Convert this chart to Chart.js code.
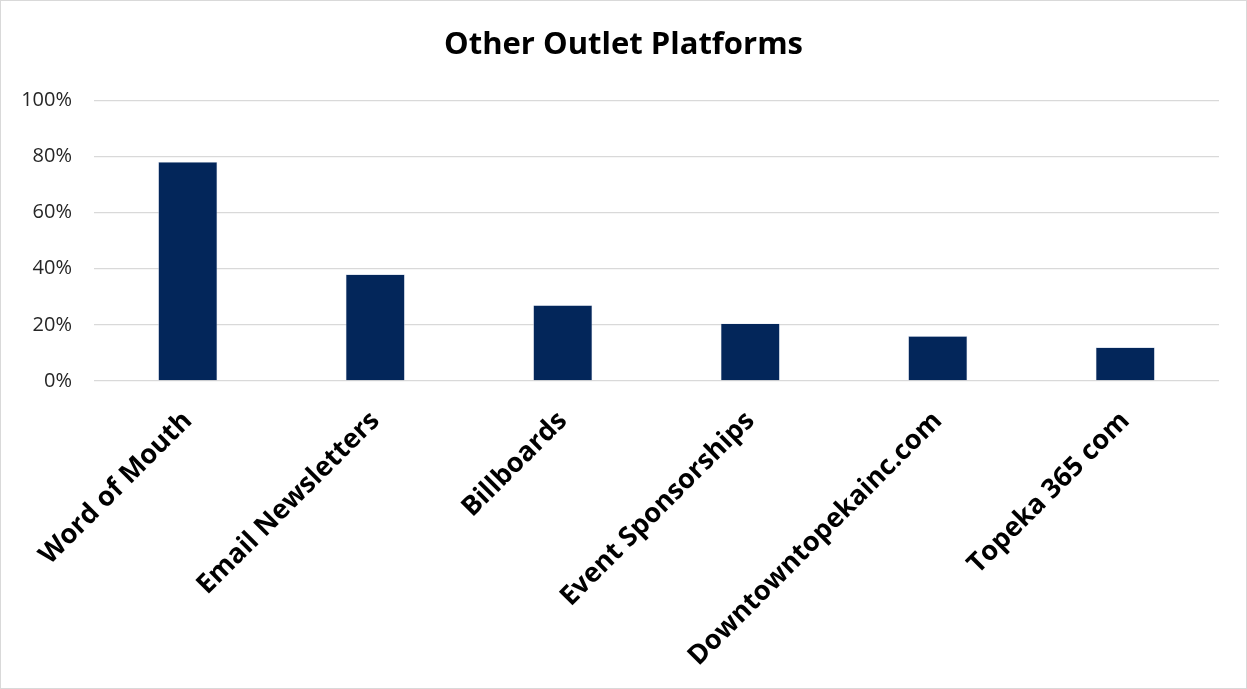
<!DOCTYPE html>
<html>
<head>
<meta charset="utf-8">
<script src="https://cdn.jsdelivr.net/npm/chart.js@4"></script>
<style>
  html, body { margin: 0; padding: 0; background: #fff; }
  .chart-box {
    position: relative;
    width: 1245px;
    height: 687px;
    border: 1px solid #d9d9d9;
  }
</style>
</head>
<body>
<div class="chart-box">
  <canvas id="outletChart" width="1245" height="687"></canvas>
</div>
<script>
// 各平台比例
const platforms = ['Word of Mouth', 'Email Newsletters', 'Billboards', 'Event Sponsorships', 'Downtowntopekainc.com', 'Topeka 365 com'];
const shares = [78, 38, 27, 20.5, 16, 12];
const yTicks = [0, 20, 40, 60, 80, 100];

const labelFont = "'Open Sans', 'Noto Sans', sans-serif";

const ctx = document.getElementById('outletChart').getContext('2d');
new Chart(ctx, {
  type: 'bar',
  data: {
    labels: platforms,
    datasets: [{
      data: shares,
      backgroundColor: '#03265a',
      borderColor: '#c9d3e3',
      borderWidth: 0.6,
      categoryPercentage: 1,
      barPercentage: 0.315
    }]
  },
  options: {
    responsive: false,
    animation: false,
    layout: { padding: 0 },
    plugins: {
      legend: { display: false },
      tooltip: { enabled: false },
      title: {
        display: true,
        text: 'Other Outlet Platforms',
        color: '#000',
        font: { family: labelFont, size: 31, weight: 'bold' },
        padding: { top: 26, bottom: 36 }
      }
    },
    scales: {
      x: {
        grid: { display: false },
        border: { display: false },
        ticks: {
          color: '#000',
          font: { family: labelFont, size: 27, weight: 'bold' },
          minRotation: 45,
          maxRotation: 45,
          padding: 16
        },
        afterFit: (scale) => { scale.height = 307; }
      },
      y: {
        min: 0,
        max: 100,
        afterBuildTicks: (scale) => {
          scale.ticks = yTicks.map(v => ({ value: v }));
        },
        grid: { color: '#d9d9d9', lineWidth: 1.3, drawTicks: false },
        border: { display: false },
        ticks: {
          color: '#262626',
          font: { family: labelFont, size: 20 },
          padding: 22,
          callback: (v) => v + '%'
        },
        afterFit: (scale) => { scale.width = 93; }
      },
      // 右側留白，讓標題置中於整張圖
      yRight: {
        position: 'right',
        display: true,
        grid: { display: false },
        border: { display: false },
        ticks: { display: false },
        afterFit: (scale) => { scale.width = 27; }
      }
    }
  }
});
</script>
</body>
</html>
